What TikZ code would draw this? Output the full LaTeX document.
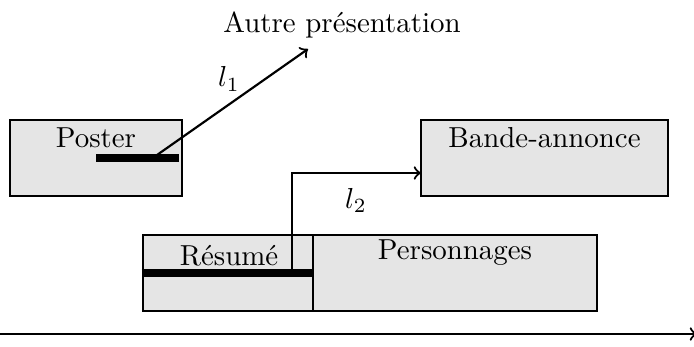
\documentclass[tikz,border=0pt]{standalone}
\begin{document}
\begin{tikzpicture}[x=0.346pt,y=-0.346pt,
 box/.style={draw=black, line width=1pt, fill=gray!20, inner sep=0pt, minimum height=76*0.346pt},
 bar/.style={line width=2.7pt},
 conn/.style={line width=0.75pt, ->},
 lbl/.style={anchor=base, inner sep=0pt}]
\useasboundingbox (0,0) rectangle (694,347);
% boxes
\node[box, minimum width=172*0.346pt] (poster) at (96,158) {};
\node[box, minimum width=247*0.346pt] (bande) at (544.5,158) {};
\node[box, minimum width=170*0.346pt] (resume) at (228,273) {};
\node[box, minimum width=284*0.346pt] (perso) at (455,273) {};
% texts
\node[lbl] (tposter) at (96,148) {Poster};
\node[lbl] (tbande) at (544.5,148) {Bande-annonce};
\node[lbl] (tresume) at (229,265) {Résumé};
\node[lbl] (tperso) at (455,259) {Personnages};
\node[lbl] (autre) at (342,33) {Autre présentation};
% bars
\coordinate (pbar) at (96,158);
\coordinate (pbarend) at (179,158);
\draw[bar] (pbar) -- (pbarend);
\draw[bar] (resume.west) -- (resume.east);
% connectors
\coordinate (l1s) at (157,155);
\coordinate (l1e) at (308,49);
\draw[conn] (l1s) -- (l1e);
\node[lbl] (l1) at (229,87) {$l_1$};
\coordinate (l2s) at (292,270);
\coordinate (l2e) at (421,173);
\draw[conn] (l2s) |- (l2e);
\node[lbl] (l2) at (356,208) {$l_2$};
% axis
\coordinate (ax0) at (0,334);
\coordinate (ax1) at (697,334);
\draw[conn] (ax0) -- (ax1);
\end{tikzpicture}
\end{document}
